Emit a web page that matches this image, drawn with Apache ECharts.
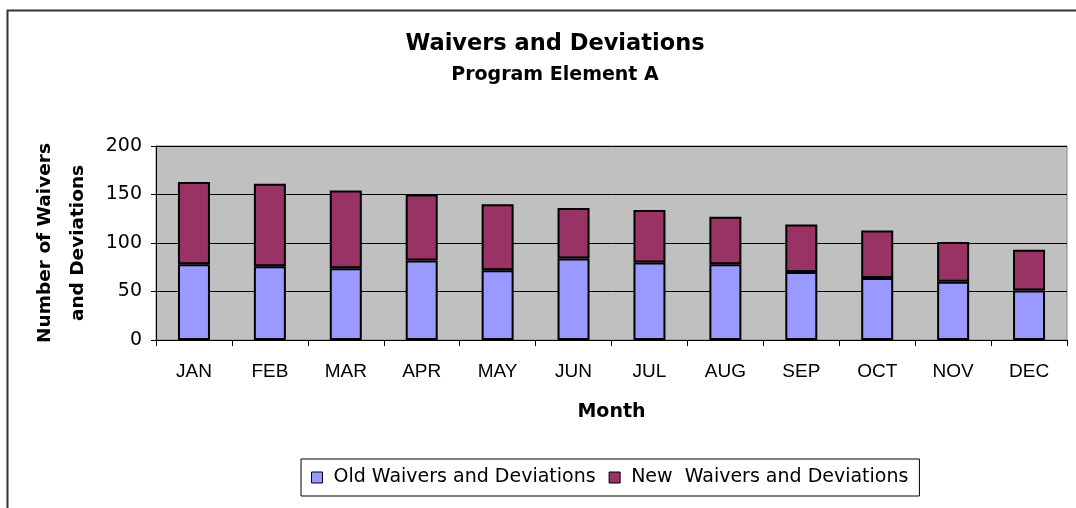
<!DOCTYPE html>
<html>
<head>
<meta charset="utf-8">
<script src="https://cdn.jsdelivr.net/npm/echarts@6/dist/echarts.min.js"></script>
<style>
  html, body { margin: 0; padding: 0; background: #fff; }
  #chart { width: 1076px; height: 508px; }
</style>
</head>
<body>
<div id="chart"></div>
<script>
// Monthly counts
const months = ['JAN', 'FEB', 'MAR', 'APR', 'MAY', 'JUN', 'JUL', 'AUG', 'SEP', 'OCT', 'NOV', 'DEC'];
const oldWaivers = [78, 76, 74, 82, 72, 84, 80, 78, 70, 64, 60, 51];
const newWaivers = [85, 85, 80, 68, 68, 52, 54, 49, 49, 49, 41, 42];
const yTicks = [0, 50, 100, 150, 200];

const SANS = 'Liberation Sans, Arial, sans-serif';
const WIDE = 'DejaVu Sans, Verdana, sans-serif';
const chart = echarts.init(document.getElementById('chart'));

chart.setOption({
  animation: false,
  backgroundColor: '#fff',
  graphic: [{
    type: 'rect',
    shape: { x: 7.5, y: 10.5, width: 1100, height: 600 },
    style: { fill: 'none', stroke: '#333', lineWidth: 2 },
    silent: true
  }],
  title: {
    text: 'Waivers and Deviations',
    subtext: 'Program Element A',
    left: 550,
    top: 28,
    textAlign: 'center',
    itemGap: 10,
    textStyle: { fontFamily: WIDE, fontSize: 22.5, fontWeight: 'bold', color: '#000' },
    subtextStyle: { fontFamily: WIDE, fontSize: 19, fontWeight: 'bold', color: '#000' }
  },
  legend: {
    left: 301,
    top: 459,
    padding: [9, 11, 9, 10],
    borderColor: '#000',
    borderWidth: 1,
    itemWidth: 11,
    itemHeight: 11,
    itemGap: 13,
    icon: 'rect',
    formatter: name => ' ' + name,
    textStyle: { fontFamily: WIDE, fontSize: 19, color: '#000' },
    data: [
      { name: 'Old Waivers and Deviations', itemStyle: { borderColor: '#000', borderWidth: 1 } },
      { name: 'New  Waivers and Deviations', itemStyle: { borderColor: '#000', borderWidth: 1 } }
    ]
  },
  grid: {
    left: 156,
    right: 9,
    top: 146,
    bottom: 168,
    show: true,
    backgroundColor: '#C0C0C0',
    borderColor: '#808080',
    borderWidth: 1
  },
  xAxis: {
    type: 'category',
    data: months,
    name: 'Month',
    nameLocation: 'middle',
    nameGap: 63,
    nameTextStyle: { fontFamily: WIDE, fontSize: 19, fontWeight: 'bold', color: '#000' },
    axisLine: { lineStyle: { color: '#000', width: 1 } },
    axisTick: { show: true, length: 6, lineStyle: { color: '#000' } },
    axisLabel: { fontFamily: SANS, fontSize: 19, color: '#000', margin: 22 }
  },
  yAxis: {
    type: 'value',
    min: yTicks[0],
    max: yTicks[yTicks.length - 1],
    interval: yTicks[1] - yTicks[0],
    name: 'Number of Waivers\nand Deviations',
    nameLocation: 'middle',
    nameGap: 56,
    nameTextStyle: { fontFamily: WIDE, fontSize: 18.5, fontWeight: 'bold', color: '#000', lineHeight: 33 },
    axisLine: { show: true, lineStyle: { color: '#000', width: 1 } },
    axisTick: { show: true, length: 5, lineStyle: { color: '#000' } },
    axisLabel: { fontFamily: WIDE, fontSize: 19, color: '#000', margin: 14 },
    splitLine: { lineStyle: { color: '#000', width: 1 } }
  },
  series: [
    {
      name: 'Old Waivers and Deviations',
      type: 'bar',
      stack: 'total',
      data: oldWaivers,
      barWidth: 32,
      itemStyle: { color: '#9999FF', borderColor: '#000', borderWidth: 2 }
    },
    {
      name: 'New  Waivers and Deviations',
      type: 'bar',
      stack: 'total',
      data: newWaivers,
      barWidth: 32,
      itemStyle: { color: '#993366', borderColor: '#000', borderWidth: 2 }
    }
  ]
});
</script>
</body>
</html>
